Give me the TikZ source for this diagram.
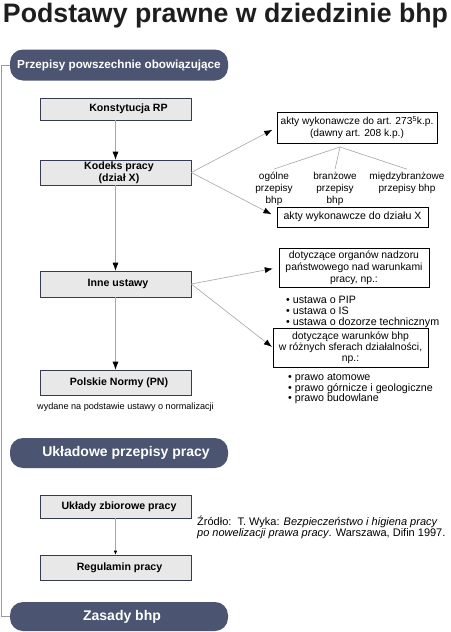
\documentclass[tikz,border=0pt]{standalone}
\usepackage{fontspec}
\setmainfont{Liberation Sans}
\usetikzlibrary{arrows.meta}
\definecolor{pillc}{HTML}{4B5572}
\definecolor{boxfill}{HTML}{E8E8E8}
\definecolor{boxdraw}{HTML}{363A52}
\definecolor{linec}{HTML}{A6A6A6}
\definecolor{leftc}{HTML}{9A9A9A}
\definecolor{titlec}{HTML}{1E1E1E}
\newcommand{\fsz}[2]{\fontsize{#1}{#2}\selectfont}
\begin{document}
\begin{tikzpicture}[x=1pt,y=-1pt,
 pill/.style={fill=pillc, rounded corners=13pt, minimum width=218pt, text=white, inner sep=0pt},
 graybox/.style={draw=boxdraw, fill=boxfill, line width=0.6pt, minimum width=151pt, inner sep=0pt, align=center, font=\fsz{10.6}{12}\bfseries},
 whitebox/.style={draw=black, line width=0.6pt, fill=white, inner sep=0pt, align=center, font=\fsz{10.4}{12}},
 conn/.style={draw=linec, line width=0.6pt, -{Latex[length=8pt,width=6pt,color=black]}},
 thinline/.style={draw=linec, line width=0.6pt},
 lbl/.style={align=center, font=\fsz{10}{12}, inner sep=3pt},
 blist/.style={align=left, font=\fsz{10.7}{11}, inner sep=0pt, anchor=north west},
]
\useasboundingbox[fill=white] (0,0) rectangle (450,632);

% title
\node[font=\fsz{26.7}{30}\bfseries, text=titlec, anchor=base, inner sep=0pt] (title) at (225.5,22.7) {Podstawy prawne w dziedzinie bhp};

% pills
\node[pill, minimum height=31pt, font=\fsz{11.7}{14}\bfseries] (p1) at (119,65) {Przepisy powszechnie obowiązujące};
\node[pill, minimum height=30pt, font=\fsz{14}{16}\bfseries] (p2) at (119,453) {\hspace*{14pt}Układowe przepisy pracy};
\node[pill, minimum height=29pt, font=\fsz{14}{16}\bfseries] (p3) at (119,616.5) {\hspace*{6pt}Zasady bhp};

% left bracket line
\draw[draw=leftc, line width=0.9pt] (p1.west) -- ++(-8,0) |- (p3.west);

% left column boxes
\node[graybox, minimum height=22pt] (konst) at (115.5,109) {\hspace*{26pt}Konstytucja RP};
\node[graybox, minimum height=25pt] (kodeks) at (115.5,172.5) {\hspace*{7pt}Kodeks pracy\\\hspace*{7pt}(dział X)};
\node[graybox, minimum height=26pt] (inne) at (115.5,284) {\hspace*{5pt}Inne ustawy};
\node[graybox, minimum height=25pt] (pn) at (115.5,382.5) {\hspace*{7pt}Polskie Normy (PN)};
\node[font=\fsz{9.1}{11}, inner sep=0pt] (wydane) at (125.5,407) {wydane na podstawie ustawy o normalizacji};

\node[graybox, minimum height=23pt] (uklady) at (115.5,506.5) {\hspace*{7pt}Układy zbiorowe pracy};
\node[graybox, minimum height=25pt] (regul) at (115.5,567.5) {\hspace*{8pt}Regulamin pracy};

% right column
\node[whitebox, minimum width=160pt, minimum height=31pt, font=\fsz{10.2}{12}] (boxA) at (357,127.5) {akty wykonawcze do art. 273\textsuperscript{5}k.p.\\(dawny art. 208 k.p.)};
\node[whitebox, minimum width=151pt, minimum height=20pt, font=\fsz{10.6}{12}] (boxB) at (352.5,217) {akty wykonawcze do działu X};
\node[whitebox, minimum width=150pt, minimum height=39pt] (boxC) at (354,267.5) {dotyczące organów nadzoru\\państwowego nad warunkami\\pracy, np.:};
\node[whitebox, minimum width=155pt, minimum height=39pt, font=\fsz{10.4}{11}] (boxD) at (350.5,347.5) {dotyczące warunków bhp\\w różnych sferach działalności,\\np.:};

\node[lbl] (ogolne) at (274,189) {ogólne\\przepisy\\bhp};
\node[lbl] (branz) at (335,189) {branżowe\\przepisy\\bhp};
\node[lbl] (miedzy) at (407,183) {międzybranżowe\\przepisy bhp};

\node[blist, font=\fsz{10.7}{10.8}] (listC) at (286,296) {• ustawa o PIP\\• ustawa o IS\\• ustawa o dozorze technicznym};
\node[blist, font=\fsz{10.7}{10.6}] (listD) at (288,373.5) {• prawo atomowe\\• prawo górnicze i geologiczne\\• prawo budowlane};

% source
\node[align=left, anchor=north west, inner sep=0pt, font=\fsz{11}{11}] (zrodlo) at (197,515.5) {Źródło:\ \ T. Wyka: \textit{Bezpieczeństwo i higiena pracy}\\\textit{po nowelizacji prawa pracy}. Warszawa, Difin 1997.};

% connectors
\draw[conn] (konst.south) -- (kodeks.north);
\draw[conn] (kodeks.south) -- (inne.north);
\draw[conn] (inne.south) -- (pn.north);
\draw[draw=linec, line width=0.6pt, -{Latex[length=4pt,width=3.5pt,color=black]}] (uklady.south) -- (regul.north);

\draw[conn, shorten >=5pt] (kodeks.east) -- (boxA.west);
\draw[conn, shorten >=6pt] (kodeks.east) -- (boxB.west);
\draw[conn, shorten >=6pt] (inne.east) -- (boxC.west);
\draw[conn, shorten >=1pt] (inne.east) -- (boxD.west);

\coordinate (split) at (340,147);
\draw[thinline] (split) -- (ogolne.north);
\draw[thinline] (split) -- (branz.north);
\draw[thinline] (split) -- (miedzy.north);
\end{tikzpicture}
\end{document}
